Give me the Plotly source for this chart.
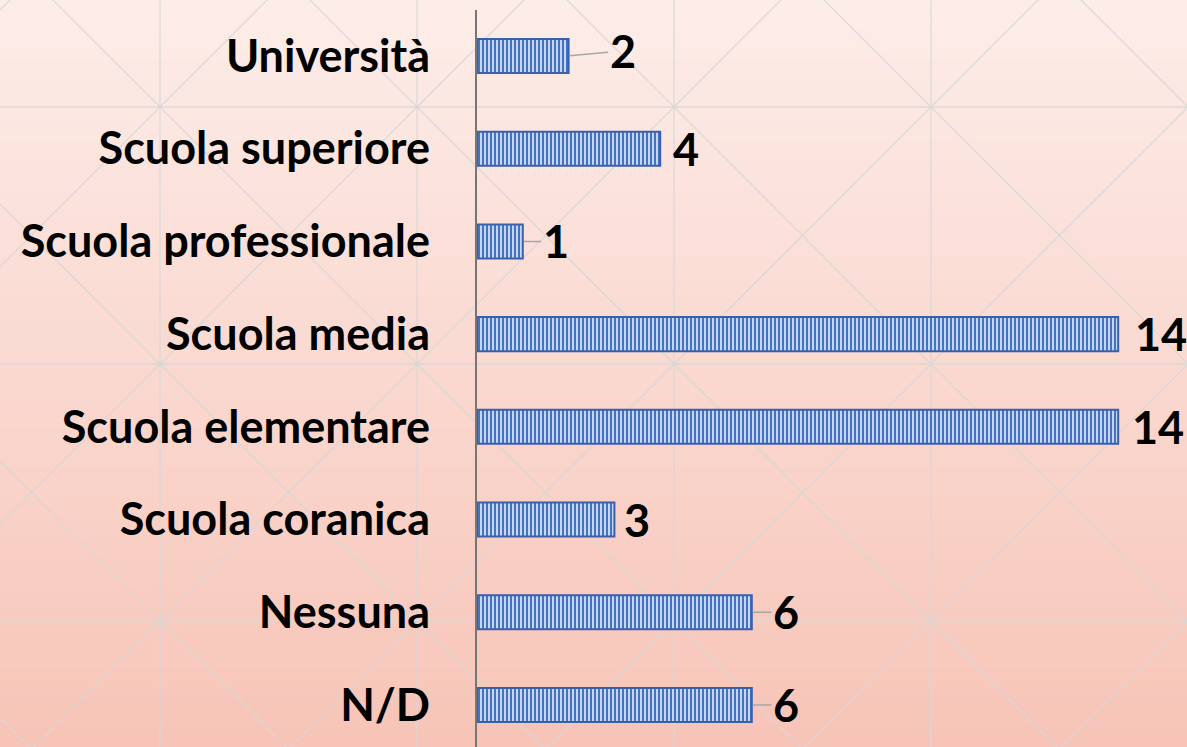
import plotly.graph_objects as go

# ---------------- data ----------------
categories = ["N/D", "Nessuna", "Scuola coranica", "Scuola elementare",
              "Scuola media", "Scuola professionale", "Scuola superiore", "Università"]
values = [6, 6, 3, 14, 14, 1, 4, 2]

# label styling (offset of value label from bar end, px; leader line or not)
label_dx = [34, 34, 23, 40, 43, 33, 26, 54]
label_dy = [0, 0, 0, 0, 0, 0, 0, -5]
leader = [True, True, False, False, False, True, False, True]

# ---------------- geometry ----------------
W, H = 1187, 747
axis_px = 477          # x of value 0
px_per_unit = 45.8
top_px = 9.6           # top of category band area
row_px = 92.72

x_dom0 = axis_px / W
x_max = (W - axis_px) / px_per_unit
y_dom1 = 1 - top_px / H
y_lo = 7.5 - (H - top_px) / row_px

FONT = "Lato"
FSIZE = 45

# ---------------- background ----------------
shapes = []
top_rgb = (253, 237, 233)
bot_rgb = (247, 196, 183)
nb = 75
for i in range(nb):
    t = (i + 0.5) / nb
    c = tuple(round(top_rgb[k] + (bot_rgb[k] - top_rgb[k]) * t) for k in range(3))
    shapes.append(dict(type="rect", xref="paper", yref="paper", layer="below",
                       x0=0, x1=1, y0=1 - (i + 1) / nb - 0.002, y1=1 - i / nb,
                       line=dict(width=0), fillcolor="rgb(%d,%d,%d)" % c))

period = 257
gx0, gy0 = 160, 107
line_style = dict(color="rgba(215,215,215,0.85)", width=1.3)


def px2paper(x, y):
    return x / W, 1 - y / H


def add_line(xa, ya, xb, yb):
    x0, y0 = px2paper(xa, ya)
    x1, y1 = px2paper(xb, yb)
    shapes.append(dict(type="line", xref="paper", yref="paper", layer="below",
                       x0=x0, y0=y0, x1=x1, y1=y1, line=line_style))


for k in range(-1, 5):
    x = gx0 + k * period
    add_line(x, -10, x, H + 10)
for k in range(-1, 4):
    y = gy0 + k * period
    add_line(-10, y, W + 10, y)
# diagonals x - y = c  and x + y = c
c1 = (gx0 - gy0)
c2 = (gx0 + gy0)
for k in range(-6, 8):
    c = c1 + k * period
    add_line(c - 800, -800, c + 1600, 1600)
for k in range(-3, 12):
    c = c2 + k * period
    add_line(c + 800, -800, c - 1600, 1600)

# ---------------- figure ----------------
fig = go.Figure()
fig.add_trace(go.Bar(
    x=values, y=categories, orientation="h", width=0.367,
    marker=dict(color="white",
                pattern=dict(shape="|", fgcolor="#4472C4", bgcolor="white",
                             fgopacity=1, size=4, solidity=0.65),
                line=dict(color="#3A60AA", width=2)),
    hoverinfo="x+y", showlegend=False,
))

lab_font = dict(family=FONT, size=FSIZE, color="black", weight="bold")
annotations = []
for cat, v, dx, dy, ld in zip(categories, values, label_dx, label_dy, leader):
    if ld:
        annotations.append(dict(x=v, y=cat, xref="x", yref="y", text=str(v),
                                showarrow=True, ax=dx, ay=dy, axref="pixel", ayref="pixel",
                                arrowhead=0, arrowwidth=1.5, arrowcolor="#A6A6A6",
                                standoff=1, startstandoff=0, font=lab_font))
    else:
        annotations.append(dict(x=v, y=cat, xref="x", yref="y", text=str(v),
                                showarrow=False, xanchor="center", xshift=dx, yshift=-dy,
                                font=lab_font))

fig.update_layout(
    width=W, height=H,
    margin=dict(l=0, r=0, t=0, b=0, pad=0),
    paper_bgcolor="rgb(250,216,207)",
    plot_bgcolor="rgba(0,0,0,0)",
    shapes=shapes,
    annotations=annotations,
    bargap=0.63,
    xaxis=dict(domain=[x_dom0, 1], range=[0, x_max], visible=False, fixedrange=True),
    yaxis=dict(domain=[0, y_dom1], range=[y_lo, 7.5], type="category",
               categoryorder="array", categoryarray=categories,
               showline=True, linecolor="#767676", linewidth=2,
               showgrid=False, zeroline=False, ticks="",
               ticklabelstandoff=36,
               tickfont=dict(family=FONT, size=FSIZE, color="black", weight="bold"),
               automargin=False, fixedrange=True),
)

fig.write_html("out.html", config={"displayModeBar": False},
               post_script="document.body.style.margin='0';document.body.style.overflow='hidden';")
